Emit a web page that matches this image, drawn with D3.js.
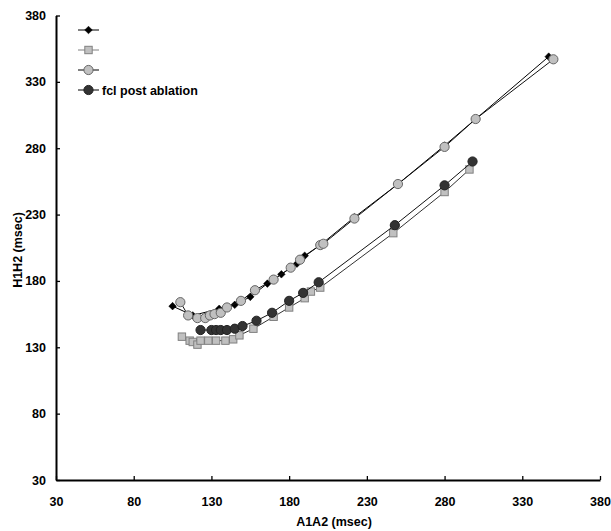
<!DOCTYPE html>
<html>
<head>
<meta charset="utf-8">
<script src="https://cdn.jsdelivr.net/npm/d3@7"></script>
<style>
  body { margin: 0; background: #fff; }
  text { font-family: Arial, "Liberation Sans", sans-serif; font-weight: bold; }
</style>
</head>
<body>
<script>
// A1A2 vs H1H2 (msec), four series
var diamondX = [105, 118, 135, 145, 155, 166, 175, 185, 190, 200, 222, 250, 280, 300, 347];
var diamondY = [161, 154, 159, 162, 168, 178, 185, 193, 199, 207, 228, 253, 282, 302, 349];

var squareX = [111, 116, 118, 121, 123, 128, 133, 139, 144, 148, 157, 170, 180, 190, 194, 200, 247, 280, 296];
var squareY = [138, 135, 134, 132, 135, 135, 135, 135, 136, 139, 144, 153, 160, 167, 172, 175, 216, 247, 264];

var grayX = [110, 115, 121, 126, 129, 132, 136, 140, 149, 158, 170, 181, 187, 200, 202, 222, 250, 280, 300, 350];
var grayY = [164, 154, 152, 152, 154, 155, 156, 160, 165, 173, 181, 190, 196, 207, 208, 227, 253, 281, 302, 347];

var darkX = [123, 130, 133, 136, 140, 145, 150, 159, 169, 180, 189, 199, 248, 280, 298];
var darkY = [143, 143, 143, 143, 143, 144, 146, 150, 156, 165, 171, 179, 222, 252, 270];

var tickValues = [30, 80, 130, 180, 230, 280, 330, 380];
var legendLabels = ['', '', '', 'fcl post ablation'];

var W = 611, H = 531;
var svg = d3.select('body').append('svg').attr('width', W).attr('height', H);

var x = d3.scaleLinear().domain([30, 380]).range([56, 600]);
var y = d3.scaleLinear().domain([30, 380]).range([480, 15.5]);

function zip(xs, ys) {
  return xs.map(function(d, i) { return [d, ys[i]]; });
}

var series = [
  { pts: zip(diamondX, diamondY), shape: 'diamond', fill: '#000', stroke: '#000', line: '#000' },
  { pts: zip(squareX, squareY), shape: 'square', fill: '#c0c0c0', stroke: '#808080', line: '#333' },
  { pts: zip(grayX, grayY), shape: 'circle', fill: '#c0c0c0', stroke: '#666', line: '#111' },
  { pts: zip(darkX, darkY), shape: 'circle', fill: '#333', stroke: '#222', line: '#111' }
];

// axes
var xAxis = svg.append('g').attr('transform', 'translate(0,480)')
  .call(d3.axisBottom(x).tickValues(tickValues).tickSizeInner(-4).tickSizeOuter(0).tickPadding(17));
var yAxis = svg.append('g').attr('transform', 'translate(56,0)')
  .call(d3.axisLeft(y).tickValues(tickValues).tickSizeInner(-4).tickSizeOuter(0).tickPadding(10));

[xAxis, yAxis].forEach(function(g) {
  g.select('.domain').attr('stroke', '#000').attr('stroke-width', 2);
  g.selectAll('.tick line').attr('stroke', '#000').attr('stroke-width', 1.3);
  g.selectAll('.tick text').attr('font-size', 12.5).attr('fill', '#000')
    .attr('font-family', 'Arial, "Liberation Sans", sans-serif').attr('font-weight', 'bold');
});

svg.append('text')
  .attr('x', 334).attr('y', 526)
  .attr('text-anchor', 'middle')
  .attr('font-size', 12.5)
  .text('A1A2 (msec)');

svg.append('text')
  .attr('transform', 'translate(22,250) rotate(-90)')
  .attr('text-anchor', 'middle')
  .attr('font-size', 12.5)
  .text('H1H2 (msec)');

function drawMarker(g, s, cx, cy) {
  if (s.shape === 'diamond') {
    g.append('path')
      .attr('d', 'M' + cx + ',' + (cy - 3.8) + 'L' + (cx + 3.8) + ',' + cy + 'L' + cx + ',' + (cy + 3.8) + 'L' + (cx - 3.8) + ',' + cy + 'Z')
      .attr('fill', s.fill).attr('stroke', s.stroke).attr('stroke-width', 0.5);
  } else if (s.shape === 'square') {
    g.append('rect')
      .attr('x', cx - 3.7).attr('y', cy - 3.7)
      .attr('width', 7.4).attr('height', 7.4)
      .attr('fill', s.fill).attr('stroke', s.stroke).attr('stroke-width', 1);
  } else {
    g.append('circle')
      .attr('cx', cx).attr('cy', cy).attr('r', 4.6)
      .attr('fill', s.fill).attr('stroke', s.stroke).attr('stroke-width', 1);
  }
}

var line = d3.line()
  .x(function(d) { return x(d[0]); })
  .y(function(d) { return y(d[1]); });

series.forEach(function(s) {
  var g = svg.append('g');
  g.append('path')
    .attr('d', line(s.pts))
    .attr('fill', 'none')
    .attr('stroke', s.line)
    .attr('stroke-width', 1);
  s.pts.forEach(function(p) {
    drawMarker(g, s, x(p[0]), y(p[1]));
  });
});

// legend
var legend = svg.append('g');
series.forEach(function(s, i) {
  var ly = 30 + i * 20;
  legend.append('line')
    .attr('x1', 78).attr('x2', 99)
    .attr('y1', ly).attr('y2', ly)
    .attr('stroke', i === 1 ? '#808080' : '#000')
    .attr('stroke-width', 1);
  drawMarker(legend, s, 88.5, ly);
  legend.append('text')
    .attr('x', 102).attr('y', ly + 4.5)
    .attr('font-size', 12.5)
    .text(legendLabels[i]);
});
</script>
</body>
</html>
